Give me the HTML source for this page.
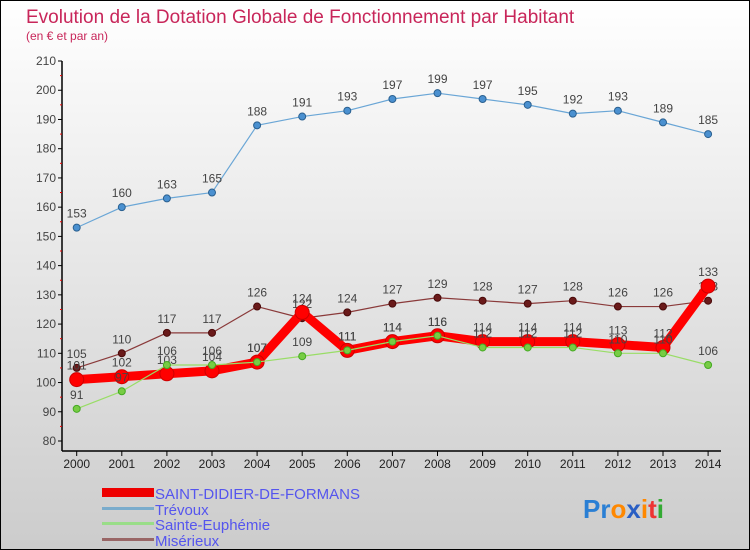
<!DOCTYPE html>
<html><head><meta charset="utf-8"><style>
body{margin:0;}
#c{width:750px;height:550px;position:relative;box-sizing:border-box;border:1px solid #000;background:linear-gradient(#fff,#ccc);font-family:"Liberation Sans",sans-serif;overflow:hidden}
</style></head><body>
<div id="c">
<svg id="s" width="748" height="548" style="position:absolute;left:0;top:0">
<text x="25" y="22" font-size="19" fill="#c8265a">Evolution de la Dotation Globale de Fonctionnement par Habitant</text>
<text x="25" y="39" font-size="12" fill="#c8265a">(en € et par an)</text>
<g id="axes"></g><g id="series"></g>
<g>
<rect x="101" y="487" width="52" height="9" fill="#e00"/>
<text x="154" y="498" font-size="15" fill="#55e">SAINT-DIDIER-DE-FORMANS</text>
<rect x="101" y="506" width="52" height="3" fill="#7aaccc"/>
<text x="154" y="514" font-size="15" fill="#55e">Trévoux</text>
<rect x="101" y="521" width="52" height="3" fill="#9d8"/>
<text x="154" y="529" font-size="15" fill="#55e">Sainte-Euphémie</text>
<rect x="101" y="537" width="52" height="3" fill="#966"/>
<text x="154" y="545" font-size="15" fill="#55e">Misérieux</text>
</g>
<g font-size="26" font-weight="bold">
<text x="582" y="517"><tspan fill="#2a7fd4">Pr</tspan><tspan fill="#f80">o</tspan><tspan fill="#2a5fc4">x</tspan><tspan fill="#f80">i</tspan><tspan fill="#e33">t</tspan><tspan fill="#3a3">i</tspan></text>
</g>
</svg>
</div>
<script>
const years=[2000,2001,2002,2003,2004,2005,2006,2007,2008,2009,2010,2011,2012,2013,2014];
const yTicks=[80,90,100,110,120,130,140,150,160,170,180,190,200,210];
const trevoux=[153,160,163,165,188,191,193,197,199,197,195,192,193,189,185];
const miserieux=[105,110,117,117,126,122,124,127,129,128,127,128,126,126,128];
const euphemie=[91,97,106,106,107,109,111,114,116,112,112,112,110,110,106];
const didier=[101,102,103,104,107,124,111,114,116,114,114,114,113,112,133];
const NS='http://www.w3.org/2000/svg';
function X(i){return 75.7+i*45.1;}
function Y(v){return 440-(v-80)*29.23/10;}
function mk(t,a,p){const e=document.createElementNS(NS,t);for(const k in a)e.setAttribute(k,a[k]);p.appendChild(e);return e;}
const ax=document.getElementById('axes');
let l=mk('line',{x1:61,y1:60,x2:61,y2:450,stroke:'#000','stroke-width':1.5},ax);


l=mk('line',{x1:61,y1:450,x2:720,y2:450,stroke:'#000','stroke-width':1.5},ax);


yTicks.forEach(v=>{
  mk('line',{x1:57,y1:Y(v),x2:61,y2:Y(v),stroke:'#000'},ax);
  if(v<210)mk('line',{x1:59,y1:Y(v+5),x2:61,y2:Y(v+5),stroke:'#e00'},ax);
  const t=mk('text',{x:55,y:Y(v)+4,'font-size':12,fill:'#444','text-anchor':'end'},ax);
  t.textContent=v;
  
  
});
years.forEach((y,i)=>{
  mk('line',{x1:X(i),y1:450,x2:X(i),y2:455,stroke:'#000'},ax);
  const t=mk('text',{x:X(i),y:467,'font-size':12,fill:'#222','text-anchor':'middle'},ax);
  t.textContent=y;
  
  
});
const sg=document.getElementById('series');
function draw(vals,name,color,dot,lw,r,stroke){
  const g=mk('g',{},sg);
  
  
  const pl=mk('polyline',{points:vals.map((v,i)=>X(i)+','+Y(v)).join(' '),fill:'none',stroke:color,'stroke-width':lw,'stroke-linejoin':'round'},g);
  
  
  vals.forEach((v,i)=>{
    const c=mk('circle',{cx:X(i),cy:Y(v),r:r,fill:dot,stroke:stroke,'stroke-width':1},g);
    
    
    const t=mk('text',{x:X(i),y:Y(v)-10,'font-size':12,fill:'#444','text-anchor':'middle'},g);
    t.textContent=v;
    
    
  });
}
draw(trevoux,'trevoux','#6aa6d6','#4a90d0',1.2,3.5,'#2a6090');
draw(miserieux,'miserieux','#8a3a3a','#6a1a1a',1.2,3.5,'#4a0a0a');
draw(didier,'saint-didier','#f00','#f00',9,7,'#c00');
draw(euphemie,'sainte-euphemie','#9d6','#7c4',1.2,3.5,'#4a2');
</script>
</body></html>
